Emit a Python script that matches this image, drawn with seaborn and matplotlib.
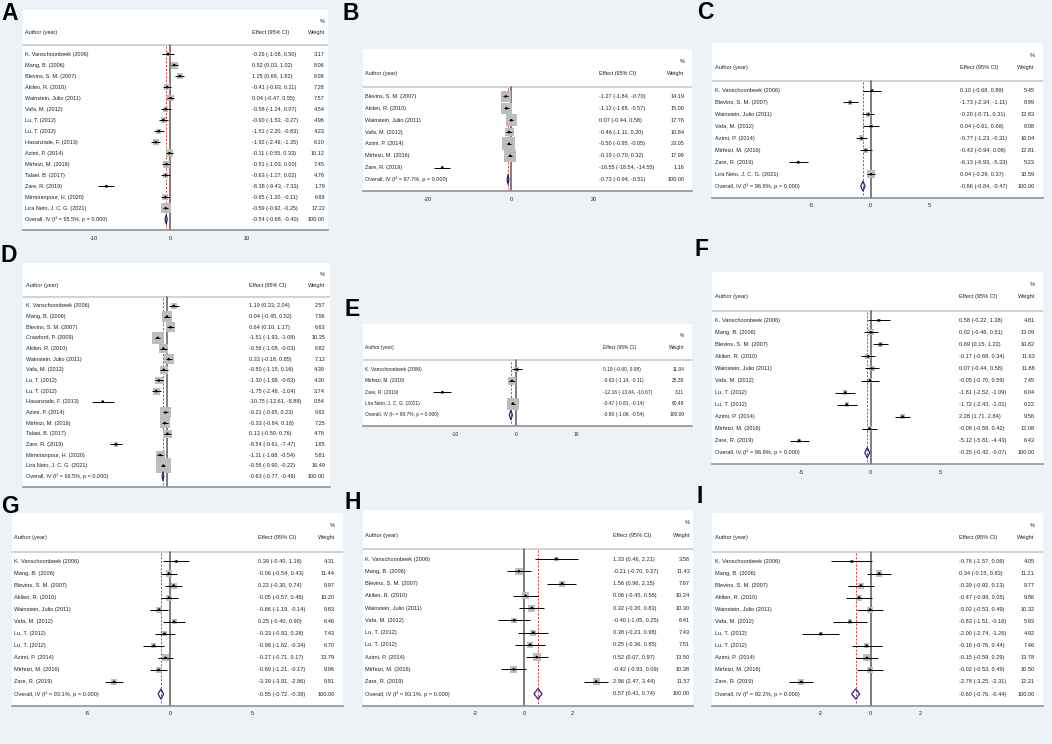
import numpy as np
import matplotlib
matplotlib.use("Agg")
import matplotlib.pyplot as plt
import matplotlib.transforms as mtransforms
import seaborn as sns

# ---------------- data ----------------
A_authors = ["K. Vanschoonbeek (2006)", "Mang, B. (2006)", "Blevins, S. M. (2007)", "Akilen, R. (2010)",
             "Wainstein, Julio (2011)", "Vafa, M. (2012)", "Lu, T. (2012)", "Lu, T. (2012)",
             "Hasanzade, F. (2013)", "Azimi, P. (2014)", "Mirfeizi, M. (2016)", "Talaei, B. (2017)",
             "Zare, R. (2019)", "Mirmiranpour, H. (2020)", "Lira Neto, J. C. G. (2021)"]
A_effect = [-0.29, 0.52, 1.25, -0.41, 0.04, -0.58, -0.90, -1.51, -1.92, -0.11, -0.51, -0.63, -8.38, -0.65, -0.59]
A_lower = [-1.08, 0.03, 0.68, -0.93, -0.47, -1.24, -1.53, -2.20, -2.49, -0.55, -1.03, -1.27, -9.43, -1.20, -0.92]
A_upper = [0.50, 1.02, 1.82, 0.11, 0.55, 0.07, -0.27, -0.83, -1.35, 0.33, 0.00, 0.02, -7.33, -0.11, -0.25]
A_weight = [3.17, 8.06, 6.08, 7.28, 7.57, 4.54, 4.96, 4.23, 6.10, 10.12, 7.45, 4.76, 1.79, 6.69, 17.22]
A_overall = [-0.54, -0.68, -0.40]
A_i2 = "95.5"

B_authors = ["Blevins, S. M. (2007)", "Akilen, R. (2010)", "Wainstein, Julio (2011)", "Vafa, M. (2012)",
             "Azimi, P. (2014)", "Mirfeizi, M. (2016)", "Zare, R. (2019)"]
B_effect = [-1.27, -1.12, 0.07, -0.46, -0.50, -0.19, -16.55]
B_lower = [-1.84, -1.68, -0.44, -1.11, -0.95, -0.70, -18.54]
B_upper = [-0.70, -0.57, 0.58, 0.20, -0.05, 0.32, -14.55]
B_weight = [14.19, 15.00, 17.76, 10.84, 23.05, 17.99, 1.16]
B_overall = [-0.73, -0.94, -0.51]
B_i2 = "97.7"

C_authors = ["K. Vanschoonbeek (2006)", "Blevins, S. M. (2007)", "Wainstein, Julio (2011)", "Vafa, M. (2012)",
             "Azimi, P. (2014)", "Mirfeizi, M. (2016)", "Zare, R. (2019)", "Lira Neto, J. C. G. (2021)"]
C_effect = [0.10, -1.73, -0.20, 0.04, -0.77, -0.43, -6.13, 0.04]
C_lower = [-0.68, -2.34, -0.71, -0.61, -1.23, -0.94, -6.93, -0.29]
C_upper = [0.89, -1.11, 0.31, 0.68, -0.31, 0.08, -5.33, 0.37]
C_weight = [5.45, 8.99, 12.83, 8.08, 16.04, 12.81, 5.23, 30.59]
C_overall = [-0.66, -0.84, -0.47]
C_i2 = "96.8"

D_authors = ["K. Vanschoonbeek (2006)", "Mang, B. (2006)", "Blevins, S. M. (2007)", "Crawford, P. (2009)",
             "Akilen, R. (2010)", "Wainstein, Julio (2011)", "Vafa, M. (2012)", "Lu, T. (2012)", "Lu, T. (2012)",
             "Hasanzade, F. (2013)", "Azimi, P. (2014)", "Mirfeizi, M. (2016)", "Talaei, B. (2017)",
             "Zare, R. (2019)", "Mirmiranpour, H. (2020)", "Lira Neto, J. C. G. (2021)"]
D_effect = [1.19, 0.04, 0.64, -1.51, -0.56, 0.33, -0.50, -1.30, -1.75, -10.75, -0.21, -0.33, 0.13, -8.54, -1.11, -0.56]
D_lower = [0.33, -0.45, 0.10, -1.93, -1.08, -0.18, -1.15, -1.96, -2.46, -12.61, -0.65, -0.84, -0.50, -9.61, -1.68, -0.90]
D_upper = [2.04, 0.52, 1.17, -1.08, -0.03, 0.85, 0.16, -0.63, -1.04, -8.88, 0.23, 0.18, 0.76, -7.47, -0.54, -0.22]
D_weight = [2.57, 7.96, 6.63, 10.35, 6.82, 7.12, 4.39, 4.30, 3.74, 0.54, 9.62, 7.25, 4.76, 1.65, 5.81, 16.49]
D_overall = [-0.63, -0.77, -0.49]
D_i2 = "96.5"

E_authors = ["K. Vanschoonbeek (2006)", "Mirfeizi, M. (2016)", "Zare, R. (2019)", "Lira Neto, J. C. G. (2021)"]
E_effect = [0.19, -0.63, -12.16, -0.47]
E_lower = [-0.60, -1.14, -13.64, -0.81]
E_upper = [0.98, -0.11, -10.67, -0.14]
E_weight = [11.04, 25.38, 3.11, 60.48]
E_overall = [-0.80, -1.06, -0.54]
E_i2 = "98.7"

F_authors = ["K. Vanschoonbeek (2006)", "Mang, B. (2006)", "Blevins, S. M. (2007)", "Akilen, R. (2010)",
             "Wainstein, Julio (2011)", "Vafa, M. (2012)", "Lu, T. (2012)", "Lu, T. (2012)",
             "Azimi, P. (2014)", "Mirfeizi, M. (2016)", "Zare, R. (2019)"]
F_effect = [0.58, 0.02, 0.69, -0.17, 0.07, -0.05, -1.81, -1.72, 2.28, -0.08, -5.12]
F_lower = [-0.22, -0.46, 0.15, -0.69, -0.44, -0.70, -2.52, -2.43, 1.71, -0.59, -5.81]
F_upper = [1.38, 0.51, 1.22, 0.34, 0.58, 0.59, -1.09, -1.01, 2.84, 0.42, -4.43]
F_weight = [4.81, 13.09, 10.82, 11.63, 11.88, 7.45, 6.04, 6.22, 9.56, 12.08, 6.43]
F_overall = [-0.25, -0.42, -0.07]
F_i2 = "96.9"

G_authors = F_authors
G_effect = [0.39, -0.06, 0.22, -0.05, -0.66, 0.25, -0.33, -0.98, -0.27, -0.69, -3.39]
G_lower = [-0.40, -0.54, -0.30, -0.57, -1.19, -0.40, -0.93, -1.62, -0.71, -1.21, -3.91]
G_upper = [1.18, 0.43, 0.74, 0.46, -0.14, 0.90, 0.28, -0.34, 0.17, -0.17, -2.86]
G_weight = [4.31, 11.44, 9.97, 10.20, 9.83, 6.46, 7.43, 6.70, 13.79, 9.96, 9.91]
G_overall = [-0.55, -0.72, -0.39]
G_i2 = "93.1"

H_authors = F_authors
H_effect = [1.33, -0.21, 1.56, 0.06, 0.32, -0.40, 0.38, 0.25, 0.52, -0.42, 2.96]
H_lower = [0.46, -0.70, 0.96, -0.45, -0.20, -1.05, -0.23, -0.36, 0.07, -0.93, 2.47]
H_upper = [2.21, 0.27, 2.15, 0.58, 0.83, 0.25, 0.98, 0.85, 0.97, 0.09, 3.44]
H_weight = [3.56, 11.43, 7.67, 10.24, 10.30, 6.41, 7.43, 7.51, 13.50, 10.38, 11.57]
H_overall = [0.57, 0.41, 0.74]
H_i2 = "93.1"

I_authors = F_authors
I_effect = [-0.76, 0.34, -0.39, -0.47, -0.02, -0.83, -2.00, -0.16, -0.15, -0.02, -2.78]
I_lower = [-1.57, -0.15, -0.92, -0.99, -0.53, -1.51, -2.74, -0.76, -0.59, -0.53, -3.25]
I_upper = [0.06, 0.83, 0.13, 0.05, 0.49, -0.16, -1.26, 0.44, 0.29, 0.49, -2.31]
I_weight = [4.05, 11.21, 9.77, 9.86, 10.32, 5.93, 4.92, 7.46, 13.78, 10.50, 12.21]
I_overall = [-0.60, -0.76, -0.44]
I_i2 = "92.2"

# ---------------- layout (pixels of a 1052x744 canvas) ----------------
W, H = 1052, 744
LAYOUT = {
    "A": dict(box=(22.7, 10, 328, 230), zero=170.3, ppu=7.62, eff=0.75, wt=0.99,
              ticks=[-10, 0, 10], side=10, fs=4.0, letter=(1, 20)),
    "B": dict(box=(362.7, 49, 691.7, 191), zero=511, ppu=4.16, eff=0.718, wt=0.978,
              ticks=[-20, 0, 20], side=13, fs=4.0, letter=(343, 20)),
    "C": dict(box=(712.3, 42.7, 1042.7, 197.7), zero=870.7, ppu=11.83, eff=0.75, wt=0.975,
              ticks=[-5, 0, 5], side=8, fs=4.1, letter=(697, 19)),
    "D": dict(box=(23.3, 263.3, 330, 486.7), zero=166.7, ppu=5.95, eff=0.737, wt=0.984,
              ticks=[-10, 0, 10], side=15, fs=4.0, letter=(1, 262), nolabels=True),
    "E": dict(box=(362.7, 324, 691.7, 426), zero=515.7, ppu=6.03, eff=0.731, wt=0.978,
              ticks=[-10, 0, 10], side=12, fs=3.55, letter=(345, 316)),
    "F": dict(box=(712.3, 272.3, 1042.7, 464.3), zero=870.7, ppu=13.97, eff=0.746, wt=0.977,
              ticks=[-5, 0, 5], side=6, fs=4.1, letter=(695, 256)),
    "G": dict(box=(11.7, 513.3, 342.7, 705.7), zero=170, ppu=16.5, eff=0.743, wt=0.977,
              ticks=[-5, 0, 5], side=7, fs=4.1, letter=(1, 513)),
    "H": dict(box=(362.7, 510, 692.7, 705.7), zero=524, ppu=24.4, eff=0.759, wt=0.992,
              ticks=[-2, 0, 2], side=8, fs=4.1, letter=(345, 509)),
    "I": dict(box=(712.3, 513.3, 1042.7, 705.7), zero=870.7, ppu=25, eff=0.748, wt=0.975,
              ticks=[-2, 0, 2], side=7, fs=4.1, letter=(697, 503)),
}

BG = "#edf2f6"
TXT = "#222222"


def forest(fig, key, authors, effect, lower, upper, weight, overall, i2):
    lay = LAYOUT[key]
    x0, y0, x1, y1 = lay["box"]
    ax = fig.add_axes([x0 / W, 1 - y1 / H, (x1 - x0) / W, (y1 - y0) / H])
    ax.set_facecolor("white")
    n = len(authors)
    rows = np.arange(n)
    xmin = (x0 - lay["zero"]) / lay["ppu"]
    xmax = (x1 - lay["zero"]) / lay["ppu"]
    ybot = n + 0.97
    ax.set_xlim(xmin, xmax)
    ax.set_ylim(ybot, -4.0)
    fs = lay["fs"]
    tr = mtransforms.blended_transform_factory(ax.transAxes, ax.transData)

    # header
    ax.axhline(-0.8, color="#d2d2d2", lw=1.4, zorder=1)
    left = 2.5 / (x1 - x0)
    ax.text(left, -1.95, "Author (year)", transform=tr, fontsize=fs, color=TXT, va="center", ha="left")
    ax.text(lay["eff"], -1.95, "Effect (95% CI)", transform=tr, fontsize=fs, color=TXT, va="center", ha="left")
    ax.text(lay["wt"], -2.95, "%", transform=tr, fontsize=fs, color=TXT, va="center", ha="right")
    ax.text(lay["wt"], -1.95, "Weight", transform=tr, fontsize=fs, color=TXT, va="center", ha="right")

    # no-effect line and overall line
    ax.plot([0, 0], [-0.8, ybot], color="#5a5a5a", lw=1.1, zorder=1)
    ov, ov_lo, ov_hi = overall
    ax.plot([ov, ov], [-0.7, n + 0.8], color="#e03c31", lw=0.7, ls=(0, (2.2, 1.6)), zorder=2)

    # study boxes, CI lines, point estimates
    wmax = max(weight)
    smax = (lay["side"] * 0.72) ** 2
    sns.scatterplot(x=effect, y=rows, size=weight, sizes=(0, smax), size_norm=(0, wmax),
                    marker="s", color="#bdbdbd", edgecolor="none", legend=False, ax=ax, zorder=3)
    ax.hlines(rows, lower, upper, color="black", lw=0.7, zorder=4)
    sns.scatterplot(x=effect, y=rows, color="black", s=3.5, marker="o", edgecolor="none",
                    legend=False, ax=ax, zorder=5)

    # overall diamond
    ax.fill([ov_lo, ov, ov_hi, ov], [n, n - 0.42, n, n + 0.42], facecolor="none",
            edgecolor="#24247e", lw=0.9, zorder=5)

    # text columns
    for i in range(n):
        ax.text(left, i, authors[i], transform=tr, fontsize=fs, color=TXT, va="center", ha="left")
        ax.text(lay["eff"], i, f"{effect[i]:.2f} ({lower[i]:.2f}, {upper[i]:.2f})",
                transform=tr, fontsize=fs, color=TXT, va="center", ha="left")
        ax.text(lay["wt"], i, f"{weight[i]:.2f}", transform=tr, fontsize=fs, color=TXT,
                va="center", ha="right")
    ax.text(left, n, f"Overall, IV (I\u00b2 = {i2}%, p = 0.000)", transform=tr, fontsize=fs,
            color=TXT, va="center", ha="left")
    ax.text(lay["eff"], n, f"{ov:.2f} ({ov_lo:.2f}, {ov_hi:.2f})", transform=tr, fontsize=fs,
            color=TXT, va="center", ha="left")
    ax.text(lay["wt"], n, "100.00", transform=tr, fontsize=fs, color=TXT, va="center", ha="right")

    # axes cosmetics
    for side in ["top", "left", "right"]:
        ax.spines[side].set_visible(False)
    ax.spines["bottom"].set_color("#8a8a8a")
    ax.spines["bottom"].set_linewidth(1.1)
    ax.set_yticks([])
    ax.set_xticks(lay["ticks"])
    if lay.get("nolabels"):
        ax.set_xticklabels([])
    else:
        ax.set_xticklabels([str(t) for t in lay["ticks"]])
    ax.tick_params(axis="x", length=2.2, width=0.6, color="#8a8a8a", labelsize=fs,
                   labelcolor=TXT, pad=1.8)
    ax.set_xlabel("")
    ax.set_ylabel("")

    lx, ly = lay["letter"]
    fig.text(lx / W, 1 - ly / H, key, fontsize=16.5, fontweight="bold", color="black",
             ha="left", va="baseline")


def main():
    sns.set_theme(style="white")
    plt.rcParams["font.family"] = ["Liberation Sans", "DejaVu Sans"]

    fig = plt.figure(figsize=(W / 100, H / 100), dpi=100)
    fig.patch.set_facecolor(BG)

    forest(fig, "A", A_authors, A_effect, A_lower, A_upper, A_weight, A_overall, A_i2)
    forest(fig, "B", B_authors, B_effect, B_lower, B_upper, B_weight, B_overall, B_i2)
    forest(fig, "C", C_authors, C_effect, C_lower, C_upper, C_weight, C_overall, C_i2)
    forest(fig, "D", D_authors, D_effect, D_lower, D_upper, D_weight, D_overall, D_i2)
    forest(fig, "E", E_authors, E_effect, E_lower, E_upper, E_weight, E_overall, E_i2)
    forest(fig, "F", F_authors, F_effect, F_lower, F_upper, F_weight, F_overall, F_i2)
    forest(fig, "G", G_authors, G_effect, G_lower, G_upper, G_weight, G_overall, G_i2)
    forest(fig, "H", H_authors, H_effect, H_lower, H_upper, H_weight, H_overall, H_i2)
    forest(fig, "I", I_authors, I_effect, I_lower, I_upper, I_weight, I_overall, I_i2)

    fig.savefig("out.png", dpi=100, facecolor=fig.get_facecolor())


if __name__ == "__main__":
    main()
